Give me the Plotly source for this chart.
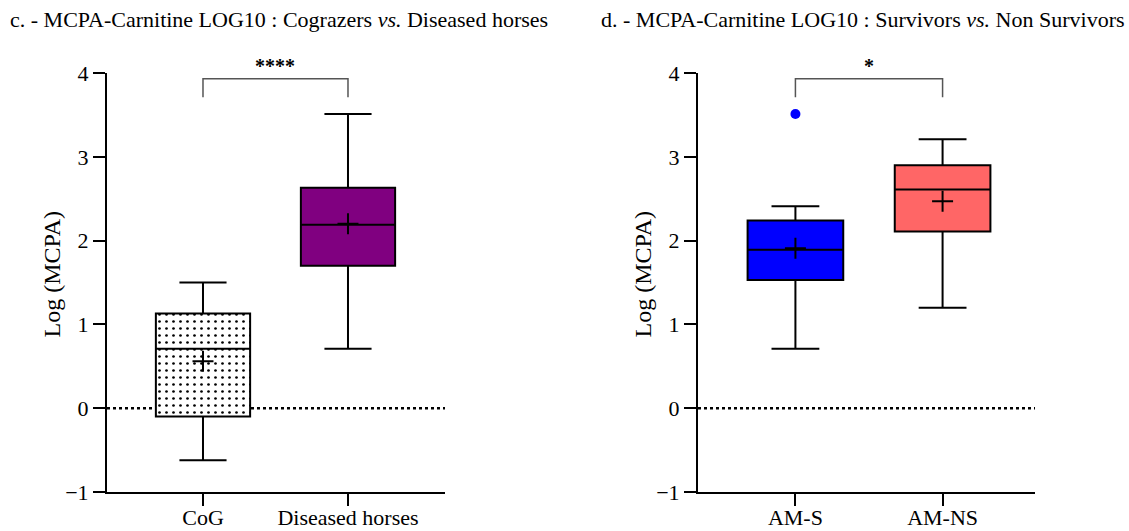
import plotly.graph_objects as go

# ---- data ----
groups_c = ["CoG", "Diseased horses"]
q1_c = [-0.10, 1.70]
median_c = [0.71, 2.19]
q3_c = [1.13, 2.63]
lower_c = [-0.62, 0.71]
upper_c = [1.50, 3.51]
mean_c = [0.56, 2.20]
colors_c = ["white", "#800080"]

groups_d = ["AM-S", "AM-NS"]
q1_d = [1.53, 2.11]
median_d = [1.89, 2.61]
q3_d = [2.24, 2.90]
lower_d = [0.71, 1.20]
upper_d = [2.41, 3.21]
mean_d = [1.91, 2.47]
colors_d = ["#0000FF", "#FF6666"]
outlier_d_group = ["AM-S"]
outlier_d_value = [3.51]

sig_c = "****"
sig_d = "*"

FONT = "Liberation Serif"
W, H = 1129, 531

fig = go.Figure()

# dotted fill for the CoG box
fig.add_trace(go.Bar(
    x=[groups_c[0]], y=[q3_c[0] - q1_c[0]], base=[q1_c[0]], width=0.65,
    marker=dict(color="white", line=dict(width=0),
                pattern=dict(shape=".", fgcolor="black", bgcolor="white",
                             fgopacity=1, size=7, solidity=0.12)),
    xaxis="x", yaxis="y", showlegend=False, hoverinfo="skip"))


def add_boxes(groups, q1, med, q3, lo, hi, mean, colors, xa, ya):
    for i, g in enumerate(groups):
        fill = colors[i] if colors[i] != "white" else "rgba(0,0,0,0)"
        fig.add_trace(go.Box(
            x=[g], q1=[q1[i]], median=[med[i]], q3=[q3[i]],
            lowerfence=[lo[i]], upperfence=[hi[i]],
            width=0.65, whiskerwidth=0.5,
            fillcolor=fill, line=dict(color="black", width=2),
            xaxis=xa, yaxis=ya, showlegend=False))
    fig.add_trace(go.Scatter(
        x=groups, y=mean, mode="markers",
        marker=dict(symbol="cross-thin", size=15,
                    line=dict(color="black", width=2)),
        xaxis=xa, yaxis=ya, showlegend=False))


add_boxes(groups_c, q1_c, median_c, q3_c, lower_c, upper_c, mean_c,
          colors_c, "x", "y")
add_boxes(groups_d, q1_d, median_d, q3_d, lower_d, upper_d, mean_d,
          colors_d, "x2", "y2")

fig.add_trace(go.Scatter(
    x=outlier_d_group, y=outlier_d_value, mode="markers",
    marker=dict(color="#0000FF", size=10),
    xaxis="x2", yaxis="y2", showlegend=False))

# ---- axes ----
ydom = [(H - 492) / H, (H - 73) / H]
axis_common = dict(showline=True, linecolor="black", linewidth=2,
                   ticks="outside", ticklen=12, tickwidth=2, tickcolor="black",
                   showgrid=False, zeroline=False, automargin=False)
xfont = dict(family=FONT, size=22, color="black")
yfont = dict(family=FONT, size=22, color="black")

fig.update_layout(
    width=W, height=H,
    margin=dict(l=0, r=0, t=0, b=0, pad=0),
    paper_bgcolor="white", plot_bgcolor="white",
    showlegend=False, boxmode="overlay", bargap=0,
    xaxis=dict(domain=[107 / W, 445 / W], anchor="y", type="category",
               categoryorder="array", categoryarray=groups_c,
               range=[-0.662, 1.669], tickfont=xfont, ticklabelstandoff=-7,
               **axis_common),
    yaxis=dict(domain=ydom, anchor="x", range=[-1, 4],
               tickvals=[-1, 0, 1, 2, 3, 4], tickfont=yfont, **axis_common),
    xaxis2=dict(domain=[698 / W, 1035 / W], anchor="y2", type="category",
                categoryorder="array", categoryarray=groups_d,
                range=[-0.662, 1.628], tickfont=xfont, ticklabelstandoff=-7,
                **axis_common),
    yaxis2=dict(domain=ydom, anchor="x2", range=[-1, 4],
                tickvals=[-1, 0, 1, 2, 3, 4], tickfont=yfont, **axis_common),
)

# zero reference lines and significance brackets
shapes = []
annotations = []
for xa, ya, groups, sig in [("x", "y", groups_c, sig_c), ("x2", "y2", groups_d, sig_d)]:
    shapes.append(dict(type="line", xref=f"{xa} domain", yref=ya,
                       x0=0, x1=1, y0=0, y1=0, layer="below",
                       line=dict(color="black", width=2.5, dash="dot")))
    shapes.append(dict(type="path", xref=xa, yref=ya,
                       path="M 0,3.71 L 0,3.93 L 1,3.93 L 1,3.71",
                       line=dict(color="#555555", width=1.5)))
    annotations.append(dict(xref=xa, yref=ya, x=0.5, y=3.93, text=f"<b>{sig}</b>",
                            showarrow=False, yanchor="bottom", yshift=0,
                            font=dict(family=FONT, size=20, color="black")))

# panel titles
annotations.append(dict(xref="paper", yref="paper", x=8 / W, y=1 - 20 / H,
                        xanchor="left", yanchor="middle", showarrow=False,
                        text="c. - MCPA-Carnitine LOG10 : Cograzers <i>vs.</i> Diseased horses",
                        font=dict(family=FONT, size=22, color="black")))
annotations.append(dict(xref="paper", yref="paper", x=1127 / W, y=1 - 20 / H,
                        xanchor="right", yanchor="middle", showarrow=False,
                        text="d. - MCPA-Carnitine LOG10 : Survivors <i>vs.</i> Non Survivors",
                        font=dict(family=FONT, size=22, color="black")))

# y-axis titles
for xpix in (51, 642):
    annotations.append(dict(xref="paper", yref="paper", x=xpix / W,
                            y=(ydom[0] + ydom[1]) / 2 + 8 / H, textangle=-90,
                            xanchor="center", yanchor="middle", showarrow=False,
                            text="Log (MCPA)",
                            font=dict(family=FONT, size=24, color="black")))

fig.update_layout(shapes=shapes, annotations=annotations)
fig.write_html("out.html")
